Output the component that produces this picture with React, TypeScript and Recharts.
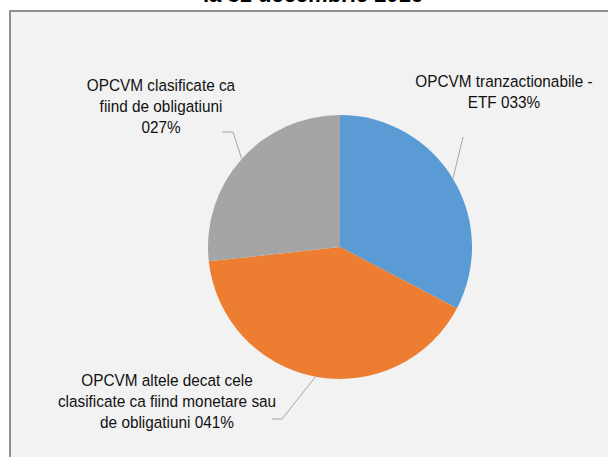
import { PieChart, Pie, Cell } from "recharts"

const categories = [
    "OPCVM tranzactionabile - ETF",
    "OPCVM altele decat cele clasificate ca fiind monetare sau de obligatiuni",
    "OPCVM clasificate ca fiind de obligatiuni",
]
const shares = [33, 41, 27]
const labelText = [
    ["OPCVM tranzactionabile -", "ETF 033%"],
    ["OPCVM altele decat cele", "clasificate ca fiind monetare sau", "de obligatiuni 041%"],
    ["OPCVM clasificate ca", "fiind de obligatiuni", "027%"],
]
const title = "la 31 decembrie 2016"

const COLORS = ["#5b9bd5", "#ed7d31", "#a5a5a5"]
const FONT = "'Liberation Sans', Arial, sans-serif"
const RAD = Math.PI / 180

// where each label sits, relative to the pie centre
const LABEL_POS = [
    { tx: 164, ty: -160, path: [[123, -110]] },
    { tx: -173, ty: 139, path: [[-58, 172], [-68, 172]] },
    { tx: -179, ty: -156, path: [[-107, -115], [-118, -115]] },
]

const data = categories.map((name, i) => ({ name, value: shares[i] }))

function renderLabel(props: any) {
    const { cx, cy, midAngle, outerRadius, index } = props
    const pos = LABEL_POS[index]
    const ex = cx + outerRadius * Math.cos(-midAngle * RAD)
    const ey = cy + outerRadius * Math.sin(-midAngle * RAD)
    const pts = [[ex, ey], ...pos.path.map(([x, y]) => [cx + x, cy + y])]
    return (
        <g>
            <polyline points={pts.map((p) => p.join(",")).join(" ")} fill="none" stroke="#a6a6a6" strokeWidth={1} />
            <text transform={`translate(${cx + pos.tx},${cy + pos.ty}) scale(0.93,1)`} textAnchor="middle" fontFamily={FONT} fontSize={16.5} fill="#111">
                {labelText[index].map((line, j) => (
                    <tspan key={j} x={0} dy={j === 0 ? 0 : 21}>{line}</tspan>
                ))}
            </text>
        </g>
    )
}

export default function App() {
    return (
        <div style={{ position: "absolute", left: 0, top: 0, width: 608, height: 457, overflow: "hidden", background: "#fff" }}>
            <div style={{ position: "absolute", left: 9, top: 10, width: 620, height: 470, border: "2px solid #8f8f8f", background: "#f2f2f2" }} />
            <div style={{ position: "absolute", left: 0, top: -16, width: 626, textAlign: "center", fontFamily: FONT, fontWeight: "bold", fontSize: 22, lineHeight: "22px", color: "#000" }}>
                {title}
            </div>
            <div style={{ position: "absolute", left: 0, top: 0 }}>
                <PieChart width={608} height={457} margin={{ top: 0, right: 0, bottom: 0, left: 0 }}>
                    <Pie data={data} dataKey="value" cx={340} cy={247} outerRadius={132} startAngle={90} endAngle={-270}
                        stroke="none" label={renderLabel} labelLine={false} isAnimationActive={false}>
                        {data.map((_, index) => (
                            <Cell key={index} fill={COLORS[index]} />
                        ))}
                    </Pie>
                </PieChart>
            </div>
        </div>
    )
}
